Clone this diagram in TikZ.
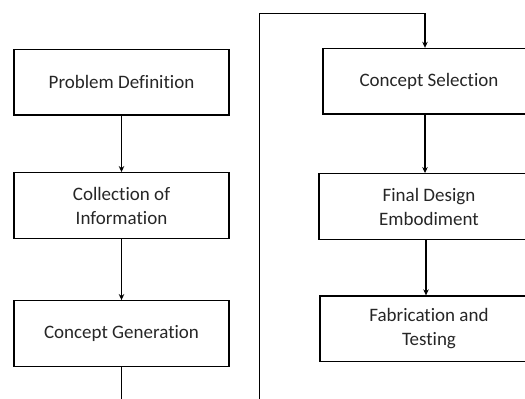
\documentclass[tikz,border=0pt]{standalone}
\usepackage{fontspec}
\setmainfont{Carlito}[Ligatures=NoCommon]
\usetikzlibrary{positioning}
\usetikzlibrary{arrows.meta}

\tikzset{
  block/.style={draw,line width=1.4pt,minimum width=215pt,minimum height=65.5pt,
    align=center,font=\fontsize{19}{24}\selectfont,text=black!85,inner sep=2pt},
  flow/.style={line width=1.3pt,-{Stealth[length=6pt,width=5.5pt]}}
}

\begin{document}
\begin{tikzpicture}[x=1pt,y=-1pt,on grid]
   \clip (0,0) rectangle (525,399);
   \useasboundingbox (0,0) rectangle (525,399);
   % left column
   \node[block] (pd) at (121.5,82.25) {Problem Definition};
   \node[block] (ci) [below=123.25pt of pd] {Collection of\\Information};
   \node[block] (cg) [below=128pt of ci] {Concept Generation};
   % right column
   \node[block,minimum width=212pt] (cs) at (429,81.25) {Concept Selection};
   \node[block,minimum width=220pt] (fd) [below=125.25pt of cs] {Final Design\\Embodiment};
   \node[block,minimum width=218pt] (ft) [below=122.3pt of fd] {Fabrication and\\Testing};
   % connectors
   \coordinate (cgend) at (121.5,410);
   \coordinate (loopbot) at (259.5,410);
   \coordinate (looptop) at (259.5,13.4);
   \draw[flow] (pd) -- (ci);
   \draw[flow] (ci) -- (cg);
   \draw[line width=1.3pt] (cg) -- (cgend);
   \draw[flow] (loopbot) -- (looptop) -| ([xshift=-4pt]cs.north);
   \draw[flow] ([xshift=-4pt]cs.south) -- ([xshift=-4pt]cs.south |- fd.north);
   \draw[flow] ([xshift=-3pt]cs.south |- fd.south) -- ([xshift=-3pt]cs.south |- ft.north);
\end{tikzpicture}
\end{document}
